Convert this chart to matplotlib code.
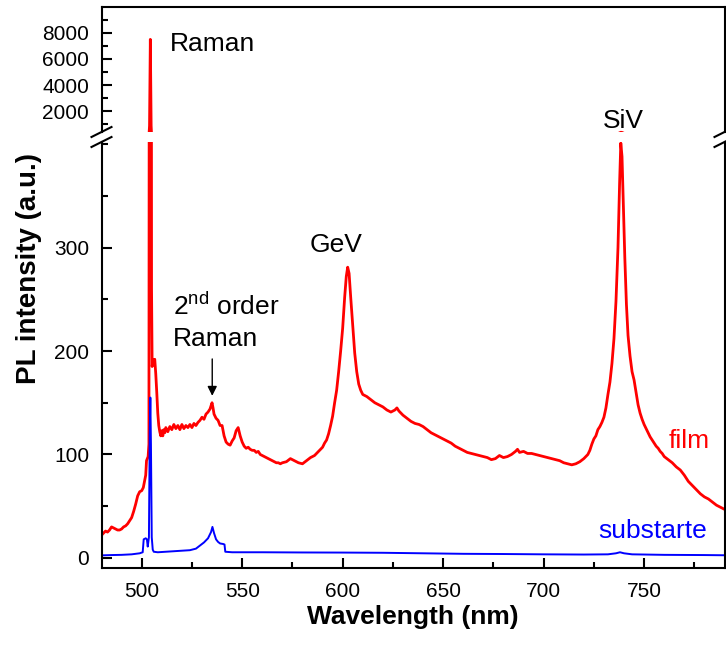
import matplotlib
matplotlib.use('Agg')
import matplotlib.pyplot as plt
from matplotlib.ticker import MultipleLocator

plt.rcParams['font.family'] = ['Liberation Sans', 'DejaVu Sans']
plt.rcParams['mathtext.fontset'] = 'custom'
plt.rcParams['mathtext.rm'] = 'Liberation Sans'

# film spectrum
film_wl = [480, 481, 482, 483, 484, 485, 486, 487, 488, 489, 490, 491, 492, 493, 494, 495,
           496, 497, 498, 499, 500, 500.8, 501.5, 502, 502.4, 502.8, 503.2, 503.6, 503.9,
           504.1, 504.3, 504.5, 504.7, 504.9, 505.2, 505.6, 506, 506.5, 507, 507.5, 508,
           508.5, 509, 509.5, 510, 510.5, 511, 511.5, 512, 513, 514, 515, 516, 517, 518,
           519, 520, 521, 522, 523, 524, 525, 526, 527, 528, 529, 530, 531, 532, 533, 534,
           535, 535.5, 536, 537, 538, 539, 540, 541, 542, 543, 544, 545, 546, 547, 548, 549,
           550, 551, 552, 553, 554, 555, 556, 557, 558, 559, 560, 561, 562, 563, 564, 565,
           566, 567, 568, 569, 570, 572, 574, 576, 578, 580, 582, 584, 586, 588, 590, 591,
           592, 593, 594, 595, 596, 597, 598, 599, 600, 601, 601.8, 602.5, 603.2, 604, 605,
           606, 607, 608, 609, 610, 612, 614, 616, 618, 620, 622, 624, 626, 627, 628, 630,
           632, 634, 636, 638, 640, 642, 644, 646, 648, 650, 652, 654, 656, 658, 660, 662,
           664, 666, 668, 670, 672, 674, 676, 678, 680, 682, 684, 686, 687, 688, 690, 692,
           694, 696, 698, 700, 702, 704, 706, 708, 710, 712, 714, 716, 718, 720, 722, 723,
           724, 725, 726, 727, 728, 729, 730, 731, 732, 733, 734, 735, 736, 737, 737.8,
           738.4, 739, 739.6, 740.4, 741.2, 742, 743, 744, 745, 746, 747, 748, 749, 750,
           751, 752, 753, 754, 755, 756, 757, 758, 759, 760, 762, 764, 766, 768, 770, 772,
           774, 776, 778, 780, 782, 784, 786, 788, 790]
film_int = [22, 24, 26, 25, 27, 30, 29, 28, 27, 27, 28, 30, 31, 33, 36, 39,
            45, 52, 60, 64, 65, 68, 75, 80, 94, 96, 98, 110, 900,
            4000, 7500, 4000, 900, 260, 185, 192, 190, 192, 178, 160, 140,
            128, 122, 118, 123, 118, 124, 121, 126, 122, 127, 124, 129, 125, 128,
            124, 129, 125, 128, 126, 129, 126, 130, 128, 131, 133, 136, 134, 139, 141, 144,
            150, 145, 139, 135, 133, 128, 128, 118, 112, 110, 109, 113, 116, 123, 126, 118,
            112, 108, 106, 107, 105, 104, 104, 102, 103, 100, 99, 98, 97, 96, 95, 94,
            93, 92, 92, 91, 92, 93, 96, 94, 92, 91, 94, 97, 99, 103, 107, 111,
            114, 120, 128, 137, 150, 162, 180, 200, 222, 252, 272, 281, 275, 252, 225,
            198, 180, 168, 162, 158, 156, 153, 150, 148, 146, 143, 141, 143, 145, 142, 138,
            135, 132, 130, 129, 127, 124, 121, 119, 117, 115, 113, 111, 108, 106, 104, 102,
            101, 100, 99, 98, 97, 95, 96, 99, 97, 98, 100, 103, 105, 102, 103, 101,
            101, 100, 99, 98, 97, 96, 95, 94, 92, 91, 90, 91, 93, 96, 100, 104,
            110, 115, 118, 124, 127, 131, 136, 145, 158, 170, 188, 212, 248, 300, 362,
            401, 388, 345, 290, 245, 215, 195, 180, 172, 160, 148, 140, 134, 129,
            125, 121, 117, 114, 111, 108, 106, 103, 101, 98, 95, 92, 88, 85, 80, 74,
            70, 66, 62, 59, 57, 54, 51, 49, 47]

# substrate spectrum
sub_wl = [480, 485, 490, 495, 499, 500.5, 501, 502, 502.6, 503, 503.6, 504, 504.3, 504.6,
          505, 505.5, 506, 508, 512, 516, 520, 524, 527, 529, 531, 533, 534.5, 535.2, 536,
          537, 538, 539, 540.5, 541.2, 541.6, 545, 560, 580, 600, 620, 640, 660, 680, 700,
          720, 732, 736, 738, 740, 744, 760, 780, 790]
sub_int = [2.5, 2.8, 3, 3.5, 4.5, 5.5, 18, 19, 18, 11, 20, 120, 155, 110,
           20, 8, 6, 5.5, 6, 6.5, 7, 7.5, 9, 12, 15, 19, 25, 30, 24,
           18, 15.5, 14, 13.5, 13, 6, 5.5, 5.5, 5.3, 5.2, 5, 4.5, 4, 3.8, 3.5,
           3.3, 3.5, 4.5, 5.5, 4.5, 3.5, 3, 2.8, 2.6]

W, H = 726, 652
fig = plt.figure(figsize=(W / 100, H / 100), dpi=100)
left, right = 101.5 / W, 724.5 / W
ax_up = fig.add_axes([left, 1 - 132 / H, right - left, (132 - 7.3) / H])
ax_lo = fig.add_axes([left, 1 - 568.3 / H, right - left, (568.3 - 142) / H])

red, blue = '#ff0000', '#0000ff'
for ax in (ax_up, ax_lo):
    ax.plot(film_wl, film_int, color=red, lw=2.0)
    ax.plot(sub_wl, sub_int, color=blue, lw=1.4)
    ax.set_xlim(480, 790)
    for s in ax.spines.values():
        s.set_linewidth(1.5)
    ax.tick_params(which='both', direction='in', width=1.5, labelsize=15, pad=9,
                   top=False, right=False)
    ax.tick_params(which='major', length=7)
    ax.tick_params(which='minor', length=4)

ax_up.set_ylim(420, 9950)
ax_up.spines['bottom'].set_visible(False)
ax_up.tick_params(axis='x', which='both', bottom=False, labelbottom=False)
ax_up.yaxis.set_minor_locator(MultipleLocator(1000))
ax_up.set_yticks([2000, 4000, 6000, 8000])

ax_lo.set_ylim(-10, 402)
ax_lo.spines['top'].set_visible(False)
ax_lo.set_yticks([0, 100, 200, 300])
ax_lo.yaxis.set_minor_locator(MultipleLocator(50))
ax_lo.xaxis.set_major_locator(MultipleLocator(50))
ax_lo.xaxis.set_minor_locator(MultipleLocator(25))
ax_lo.tick_params(axis='x', pad=10)
ax_lo.set_xlabel('Wavelength (nm)', fontsize=19, fontweight='bold', labelpad=3)

# break marks
kw = dict(color='k', lw=1.5, clip_on=False)
dx = 10 / 623
dy_up = 5 / 124.7
dy_lo = 5 / 426.3
for xx in (0, 1):
    ax_up.plot([xx - dx, xx + dx], [-dy_up, dy_up], transform=ax_up.transAxes, **kw)
    ax_lo.plot([xx - dx, xx + dx], [1 - dy_lo, 1 + dy_lo], transform=ax_lo.transAxes, **kw)

fig.text(29 / W, 1 - 268 / H, 'PL intensity (a.u.)', rotation=90, ha='center', va='center',
         fontsize=20, fontweight='bold')

# annotations
fs = 19
ax_up.text(513.8, 6580, 'Raman', fontsize=fs, ha='left', va='baseline')
ax_up.text(739.5, 690, 'SiV', fontsize=fs, ha='center', va='baseline')
ax_lo.text(596.5, 296, 'GeV', fontsize=fs, ha='center', va='baseline')
ax_lo.text(515.5, 235, r'2$^{\mathrm{nd}}$ order', fontsize=fs, ha='left', va='baseline')
ax_lo.text(515.5, 204.5, 'Raman', fontsize=fs, ha='left', va='baseline')
ax_lo.annotate('', xy=(535.1, 154), xytext=(535.1, 195),
               arrowprops=dict(arrowstyle='-|>', color='k', lw=1, mutation_scale=14))
ax_lo.text(762, 106, 'film', fontsize=fs, color=red, ha='left', va='baseline')
ax_lo.text(727, 19, 'substarte', fontsize=fs, color=blue, ha='left', va='baseline')

fig.savefig('out.png', dpi=100)
